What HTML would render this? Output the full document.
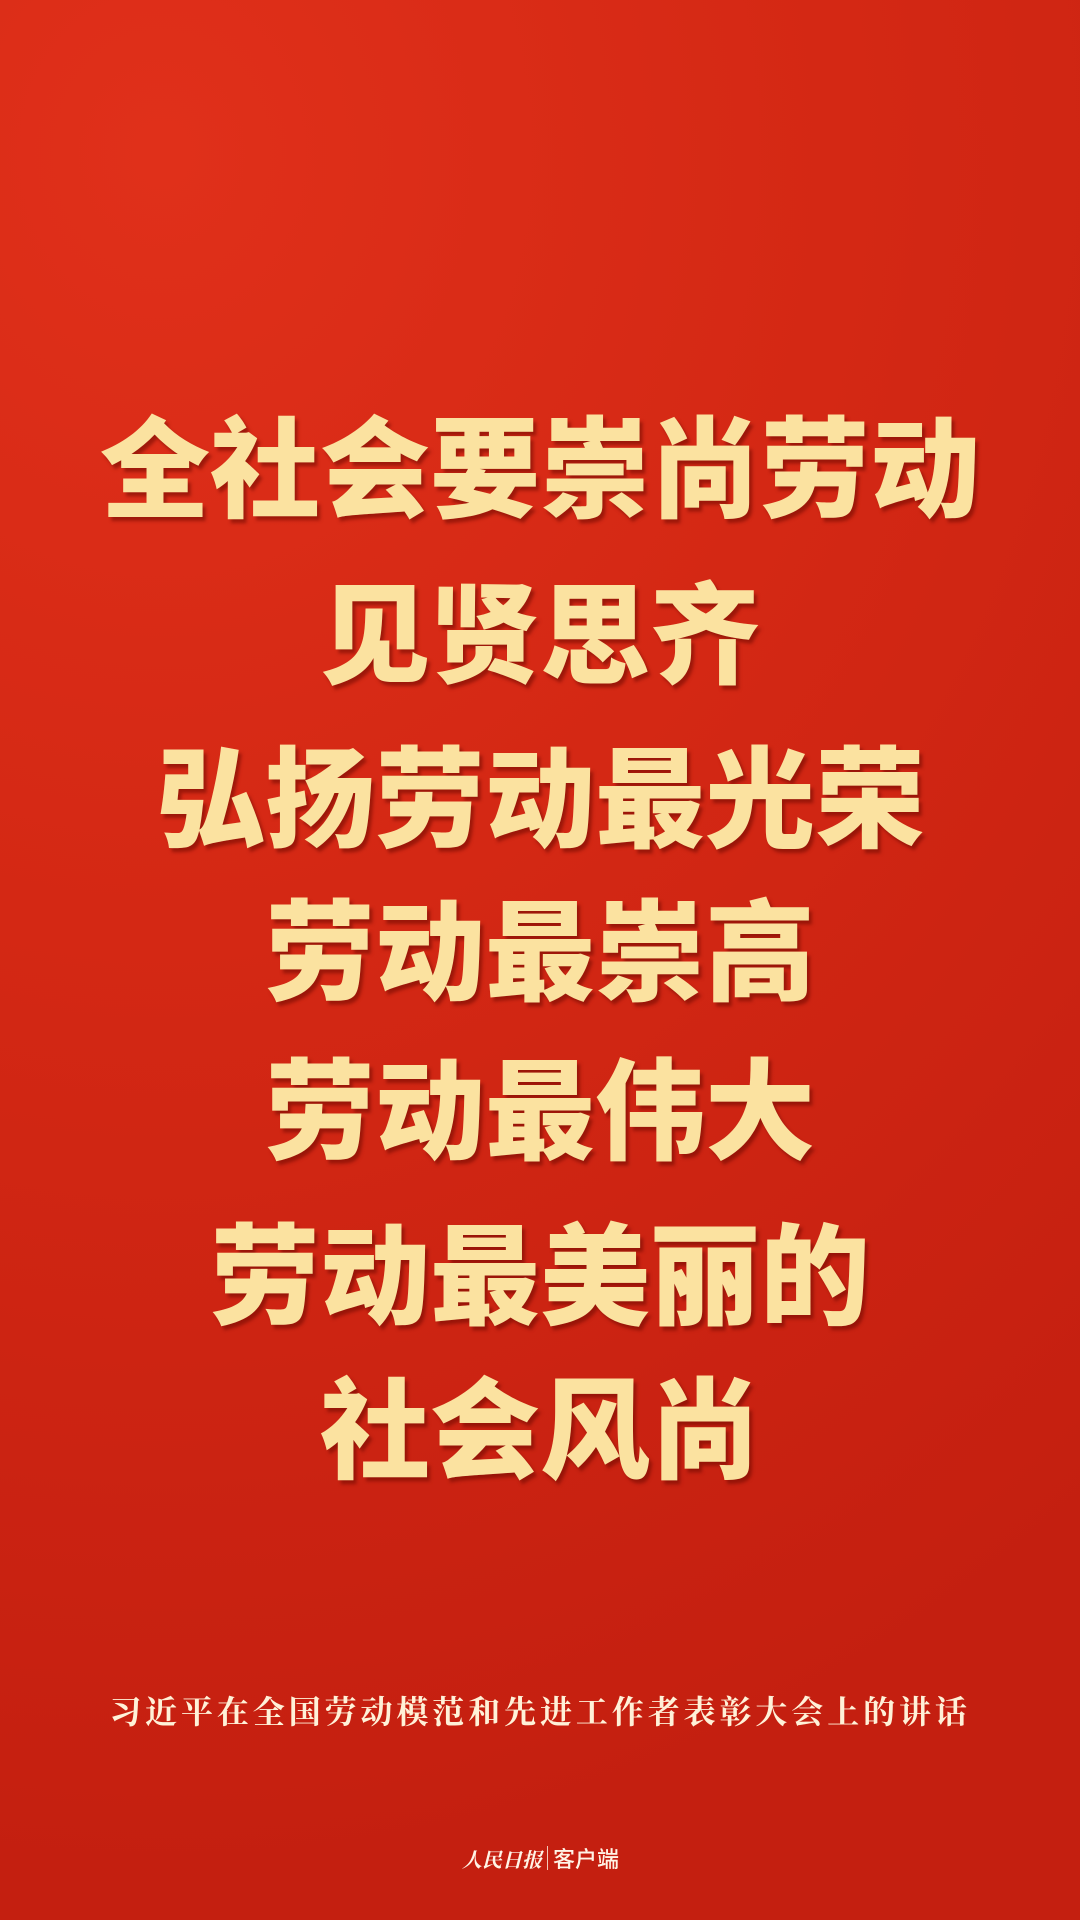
<!DOCTYPE html>
<html><head><meta charset="utf-8">
<style>
html,body{margin:0;padding:0}
body{width:1080px;height:1920px;position:relative;overflow:hidden;
background:radial-gradient(ellipse 140% 90% at 15% 8%,#e0301a 0%,#d42814 45%,#c41f10 100%);
font-family:"Liberation Sans","Noto Sans CJK SC",sans-serif}
.line{position:absolute;left:0;width:1080px;text-align:center;font-size:110px;font-weight:900;line-height:110px;color:#fbe2a0;
text-shadow:3px 4px 3px rgba(110,10,0,0.55);white-space:nowrap}
.foot{position:absolute;left:0;width:1080px;text-align:center;top:1694px;font-family:"Liberation Serif","Noto Serif CJK SC",serif;font-weight:700;font-size:32px;line-height:36px;letter-spacing:3.9px;color:#fff1d8}
.logo{position:absolute;top:1845px;left:462px;height:26px;display:flex;align-items:center;color:#fff3e6;font-size:22px}
.logo .a{font-family:"Noto Serif CJK SC",serif;font-style:italic;font-weight:700;font-size:20px}
.logo .sep{width:1px;height:24px;background:#f3c8b8;margin:0 5px}
.logo .b{font-family:"Liberation Sans","Noto Sans CJK SC",sans-serif;font-weight:500;font-size:22px}
</style></head>
<body>
<div class="line" style="top:417px">全社会要崇尚劳动</div>
<div class="line" style="top:583px">见贤思齐</div>
<div class="line" style="top:747px">弘扬劳动最光荣</div>
<div class="line" style="top:900px">劳动最崇高</div>
<div class="line" style="top:1059px">劳动最伟大</div>
<div class="line" style="top:1224px">劳动最美丽的</div>
<div class="line" style="top:1378px">社会风尚</div>
<div class="foot">习近平在全国劳动模范和先进工作者表彰大会上的讲话</div>
<div class="logo"><span class="a">人民日报</span><span class="sep"></span><span class="b">客户端</span></div>
</body></html>
